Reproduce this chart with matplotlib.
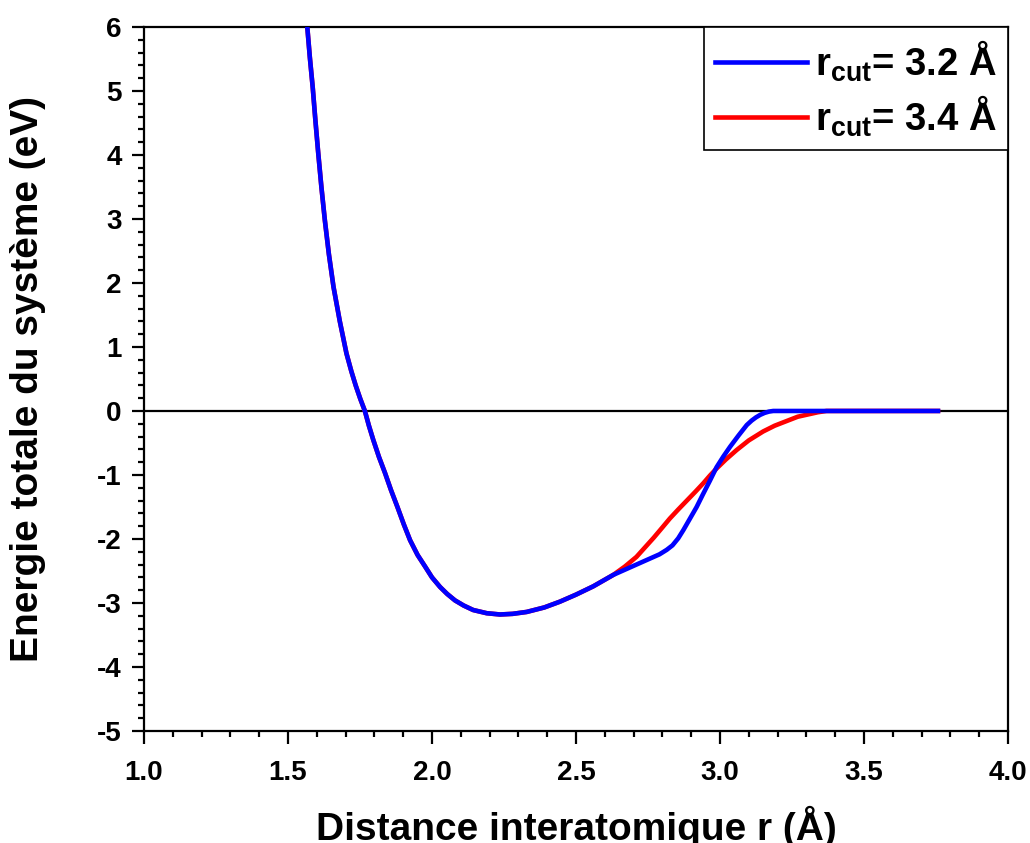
import numpy as np
import matplotlib
matplotlib.use('Agg')
import matplotlib.pyplot as plt
from matplotlib.ticker import MultipleLocator

plt.rcParams['font.family'] = ['Liberation Sans', 'DejaVu Sans']
plt.rcParams['font.weight'] = 'bold'
plt.rcParams['axes.unicode_minus'] = False
plt.rcParams['mathtext.fontset'] = 'custom'
plt.rcParams['mathtext.rm'] = 'Liberation Sans:bold'
plt.rcParams['mathtext.it'] = 'Liberation Sans:bold'
plt.rcParams['mathtext.bf'] = 'Liberation Sans:bold'

# common part of both curves (r in angstrom, E in eV)
r_common = [1.567, 1.576, 1.586, 1.595, 1.605, 1.616, 1.628, 1.642, 1.658, 1.68,
            1.703, 1.72, 1.735, 1.751, 1.767, 1.781, 1.796, 1.816, 1.837, 1.858,
            1.880, 1.902, 1.924, 1.95, 1.976, 2.0, 2.028, 2.053, 2.080, 2.11,
            2.143, 2.19, 2.236, 2.28, 2.329, 2.39, 2.444, 2.5, 2.56, 2.63]
E_common = [6.0, 5.52, 5.05, 4.55, 4.03, 3.5, 2.98, 2.45, 1.94, 1.4,
            0.90, 0.62, 0.40, 0.19, 0.0, -0.23, -0.45, -0.72, -0.97, -1.24,
            -1.50, -1.77, -2.02, -2.25, -2.43, -2.60, -2.75, -2.86, -2.96, -3.04,
            -3.11, -3.16, -3.18, -3.17, -3.14, -3.07, -2.98, -2.87, -2.74, -2.56]

# tail for r_cut = 3.2
r_tail_32 = [2.68, 2.74, 2.79, 2.815, 2.835, 2.855, 2.873, 2.896, 2.919, 2.94,
             2.965, 2.988, 3.012, 3.035, 3.065, 3.093, 3.11, 3.125, 3.14, 3.155,
             3.17, 3.185, 3.3, 3.5, 3.757]
E_tail_32 = [-2.46, -2.34, -2.24, -2.17, -2.10, -1.99, -1.86, -1.68, -1.50, -1.31,
             -1.09, -0.88, -0.71, -0.56, -0.38, -0.22, -0.15, -0.10, -0.06, -0.03,
             -0.01, 0.0, 0.0, 0.0, 0.0]

# tail for r_cut = 3.4
r_tail_34 = [2.67, 2.71, 2.74, 2.77, 2.80, 2.826, 2.855, 2.885, 2.915, 2.942,
             2.965, 2.988, 3.02, 3.058, 3.10, 3.15, 3.19, 3.23, 3.27, 3.31,
             3.34, 3.37, 3.5, 3.757]
E_tail_34 = [-2.43, -2.28, -2.13, -1.98, -1.82, -1.68, -1.54, -1.40, -1.26, -1.13,
             -1.01, -0.90, -0.76, -0.61, -0.46, -0.32, -0.23, -0.16, -0.09, -0.05,
             -0.02, 0.0, 0.0, 0.0]

labels = [r'$\mathregular{r_{cut}}$= 3.2 Å', r'$\mathregular{r_{cut}}$= 3.4 Å']

fig = plt.figure(figsize=(10.3, 8.43), dpi=100)
ax = fig.add_axes([0.1398, 0.1329, 0.8388, 0.8351])

ax.axhline(0, color='black', lw=1.6, zorder=1)
l34, = ax.plot(r_common + r_tail_34, E_common + E_tail_34, color='red', lw=3.3,
               zorder=2, solid_joinstyle='round')
l32, = ax.plot(r_common + r_tail_32, E_common + E_tail_32, color='blue', lw=3.3,
               zorder=3, solid_joinstyle='round')

ax.set_xlim(1.0, 4.0)
ax.set_ylim(-5, 6)
ax.xaxis.set_major_locator(MultipleLocator(0.5))
ax.xaxis.set_minor_locator(MultipleLocator(0.1))
ax.yaxis.set_major_locator(MultipleLocator(1))
ax.yaxis.set_minor_locator(MultipleLocator(0.2))
ax.xaxis.set_major_formatter(plt.FormatStrFormatter('%.1f'))

for s in ax.spines.values():
    s.set_linewidth(1.6)
ax.tick_params(which='major', direction='out', length=9, width=1.6,
               labelsize=20, top=False, right=False)
ax.tick_params(which='minor', direction='out', length=4.5, width=1.6,
               top=False, right=False)
ax.tick_params(axis='x', which='major', pad=12)
ax.tick_params(axis='y', which='major', pad=7)

ax.set_xlabel('Distance interatomique r (Å)', fontsize=28, fontweight='bold')
ax.set_ylabel('Energie totale du système (eV)', fontsize=28, fontweight='bold')
ax.xaxis.set_label_coords(0.5, -0.106)
ax.yaxis.set_label_coords(-0.113, 0.5)

leg = ax.legend([l32, l34], labels, loc='upper right', fontsize=27.5,
                fancybox=False, edgecolor='black', framealpha=1,
                borderaxespad=0, handlelength=2.4, handletextpad=0.2,
                labelspacing=0.25, borderpad=0.3)
leg.get_frame().set_linewidth(1.2)

fig.savefig('out.png', dpi=100)
